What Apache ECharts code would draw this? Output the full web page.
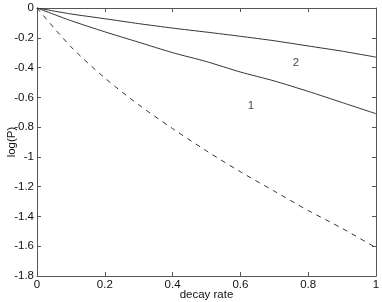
<!DOCTYPE html>
<html>
<head>
<meta charset="utf-8">
<script src="https://cdn.jsdelivr.net/npm/echarts@6/dist/echarts.min.js"></script>
<style>html,body{margin:0;padding:0;background:#fff}#c{width:382px;height:302px}</style>
</head>
<body>
<div id="c"></div>
<script>
var decayRate = [0, 0.1, 0.2, 0.3, 0.4, 0.5, 0.6, 0.7, 0.8, 0.9, 1.0];
var curve2 = [0, -0.04, -0.072, -0.105, -0.135, -0.162, -0.19, -0.22, -0.255, -0.29, -0.33];
var curve1 = [0, -0.085, -0.16, -0.23, -0.30, -0.36, -0.43, -0.49, -0.56, -0.635, -0.71];
var curveDashed = [0, -0.26, -0.47, -0.65, -0.81, -0.96, -1.10, -1.23, -1.36, -1.48, -1.61];
var annotations = [{text: '1', x: 0.631, y: -0.655}, {text: '2', x: 0.764, y: -0.365}];

function pairs(ys) { return decayRate.map(function (x, i) { return [x, ys[i]]; }); }

var font = 'Liberation Sans, Arial, Helvetica, sans-serif';
var axisCol = '#555';
var lineCol = '#333';

var chart = echarts.init(document.getElementById('c'));
chart.setOption({
  animation: false,
  backgroundColor: '#fff',
  grid: {left: 37, right: 6, top: 8, bottom: 26, containLabel: false, outerBoundsMode: 'none'},
  xAxis: [{
    type: 'value', min: 0, max: 1, interval: 0.2, position: 'bottom',
    name: 'decay rate', nameLocation: 'middle', nameGap: 13, nameMoveOverlap: false,
    nameTextStyle: {fontFamily: font, fontSize: 11.5, color: '#111'},
    axisLine: {show: true, onZero: false, lineStyle: {color: axisCol, width: 1}},
    axisTick: {show: true, inside: true, length: 4, lineStyle: {color: axisCol}},
    axisLabel: {fontFamily: font, fontSize: 11.5, color: '#111', margin: 3,
      formatter: function (v) { return String(+v.toFixed(1)); }},
    splitLine: {show: false}
  }, {
    type: 'value', min: 0, max: 1, interval: 0.2, position: 'top',
    axisLine: {show: true, onZero: false, lineStyle: {color: axisCol, width: 1}},
    axisTick: {show: true, inside: true, length: 4, lineStyle: {color: axisCol}},
    axisLabel: {show: false}, splitLine: {show: false}
  }],
  yAxis: [{
    type: 'value', min: -1.8, max: 0, interval: 0.2, position: 'left',
    name: 'log(P)', nameLocation: 'middle', nameGap: 19, nameRotate: 90, nameMoveOverlap: false,
    nameTextStyle: {fontFamily: font, fontSize: 11.5, color: '#111'},
    axisLine: {show: true, onZero: false, lineStyle: {color: axisCol, width: 1}},
    axisTick: {show: true, inside: true, length: 4, lineStyle: {color: axisCol}},
    axisLabel: {fontFamily: font, fontSize: 11.5, color: '#111', margin: 3,
      formatter: function (v) { return String(+v.toFixed(1)); }},
    splitLine: {show: false}
  }, {
    type: 'value', min: -1.8, max: 0, interval: 0.2, position: 'right',
    axisLine: {show: true, onZero: false, lineStyle: {color: axisCol, width: 1}},
    axisTick: {show: true, inside: true, length: 4, lineStyle: {color: axisCol}},
    axisLabel: {show: false}, splitLine: {show: false}
  }],
  series: [
    {type: 'line', data: pairs(curve2), symbol: 'none', smooth: 0.2,
      lineStyle: {color: lineCol, width: 1}},
    {type: 'line', data: pairs(curve1), symbol: 'none', smooth: 0.2,
      lineStyle: {color: lineCol, width: 1}},
    {type: 'line', data: pairs(curveDashed), symbol: 'none', smooth: 0.3,
      lineStyle: {color: lineCol, width: 1, type: [5, 5]}},
    {type: 'scatter', symbolSize: 0, silent: true,
      data: annotations.map(function (a) { return {value: [a.x, a.y], name: a.text}; }),
      label: {show: true, position: 'inside', formatter: '{b}', fontFamily: font, fontSize: 11.5, color: '#111'}}
  ]
});
</script>
</body>
</html>
